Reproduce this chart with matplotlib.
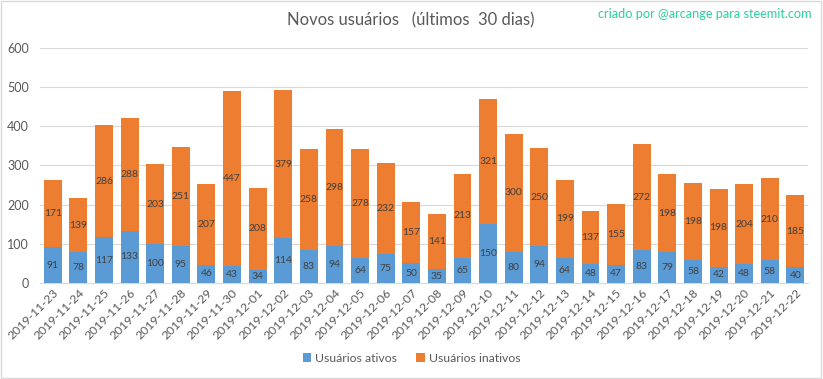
import matplotlib
matplotlib.use("Agg")
import matplotlib.pyplot as plt
import numpy as np

dates = ["2019-11-23", "2019-11-24", "2019-11-25", "2019-11-26", "2019-11-27", "2019-11-28",
         "2019-11-29", "2019-11-30", "2019-12-01", "2019-12-02", "2019-12-03", "2019-12-04",
         "2019-12-05", "2019-12-06", "2019-12-07", "2019-12-08", "2019-12-09", "2019-12-10",
         "2019-12-11", "2019-12-12", "2019-12-13", "2019-12-14", "2019-12-15", "2019-12-16",
         "2019-12-17", "2019-12-18", "2019-12-19", "2019-12-20", "2019-12-21", "2019-12-22"]
ativos = [91, 78, 117, 133, 100, 95, 46, 43, 34, 114, 83, 94, 64, 75, 50, 35, 65, 150,
          80, 94, 64, 48, 47, 83, 79, 58, 42, 48, 58, 40]
inativos = [171, 139, 286, 288, 203, 251, 207, 447, 208, 379, 258, 298, 278, 232, 157, 141,
            213, 321, 300, 250, 199, 137, 155, 272, 198, 198, 198, 204, 210, 185]
yticks = [0, 100, 200, 300, 400, 500, 600]

plt.rcParams['font.family'] = ['Lato', 'DejaVu Sans']

fig = plt.figure(figsize=(8.23, 3.79), dpi=100)
ax = fig.add_axes([0.0486, 0.2533, 0.9334, 0.6201])

x = np.arange(len(dates))
blue = "#5B9BD5"
orange = "#ED7D31"
b1 = ax.bar(x, ativos, width=0.7, color=blue, label="Usuários ativos", zorder=3)
b2 = ax.bar(x, inativos, width=0.7, bottom=ativos, color=orange, label="Usuários inativos", zorder=3)

for i in range(len(dates)):
    ax.text(x[i], ativos[i] / 2, str(ativos[i]), ha="center", va="center",
            fontsize=7.5, color="#404040", zorder=4)
    ax.text(x[i], ativos[i] + inativos[i] / 2, str(inativos[i]), ha="center", va="center",
            fontsize=7.5, color="#404040", zorder=4)

ax.set_xlim(-0.5, len(dates) - 0.5)
ax.set_ylim(0, 600)
ax.set_yticks(yticks)
ax.set_yticklabels([str(v) for v in yticks])
ax.grid(axis="y", color="#D9D9D9", linewidth=0.8, zorder=0)
for s in ["top", "right", "left"]:
    ax.spines[s].set_visible(False)
ax.spines["bottom"].set_color("#D9D9D9")
ax.tick_params(axis="y", length=0, labelsize=9, colors="#595959", pad=8)
ax.tick_params(axis="x", length=0, labelsize=8.8, colors="#595959", pad=3)
ax.set_xticks(x)
ax.set_xticklabels(dates, rotation=45, ha="right", rotation_mode="anchor")

fig.text(0.499, 0.945, "Novos usuários   (últimos  30 dias)", ha="center", va="center",
         fontsize=11.9, color="#595959")
fig.text(0.986, 0.962, "criado por @arcange para steemit.com", ha="right", va="center",
         fontsize=9.2, color="#2BCFA0")

handles = [b1, b2]
fig.legend(handles, ["Usuários ativos", "Usuários inativos"], loc="center",
           bbox_to_anchor=(0.5, 0.055), ncol=2, frameon=False, fontsize=8.8,
           handlelength=0.7, handleheight=0.7, handletextpad=0.3, columnspacing=1.6,
           labelcolor="#595959")

border = plt.Rectangle((0.001, 0.002), 0.997, 0.995, transform=fig.transFigure,
                       fill=False, edgecolor="#D9D9D9", linewidth=1)
fig.add_artist(border)

fig.savefig("out.png", dpi=100, facecolor="white")
